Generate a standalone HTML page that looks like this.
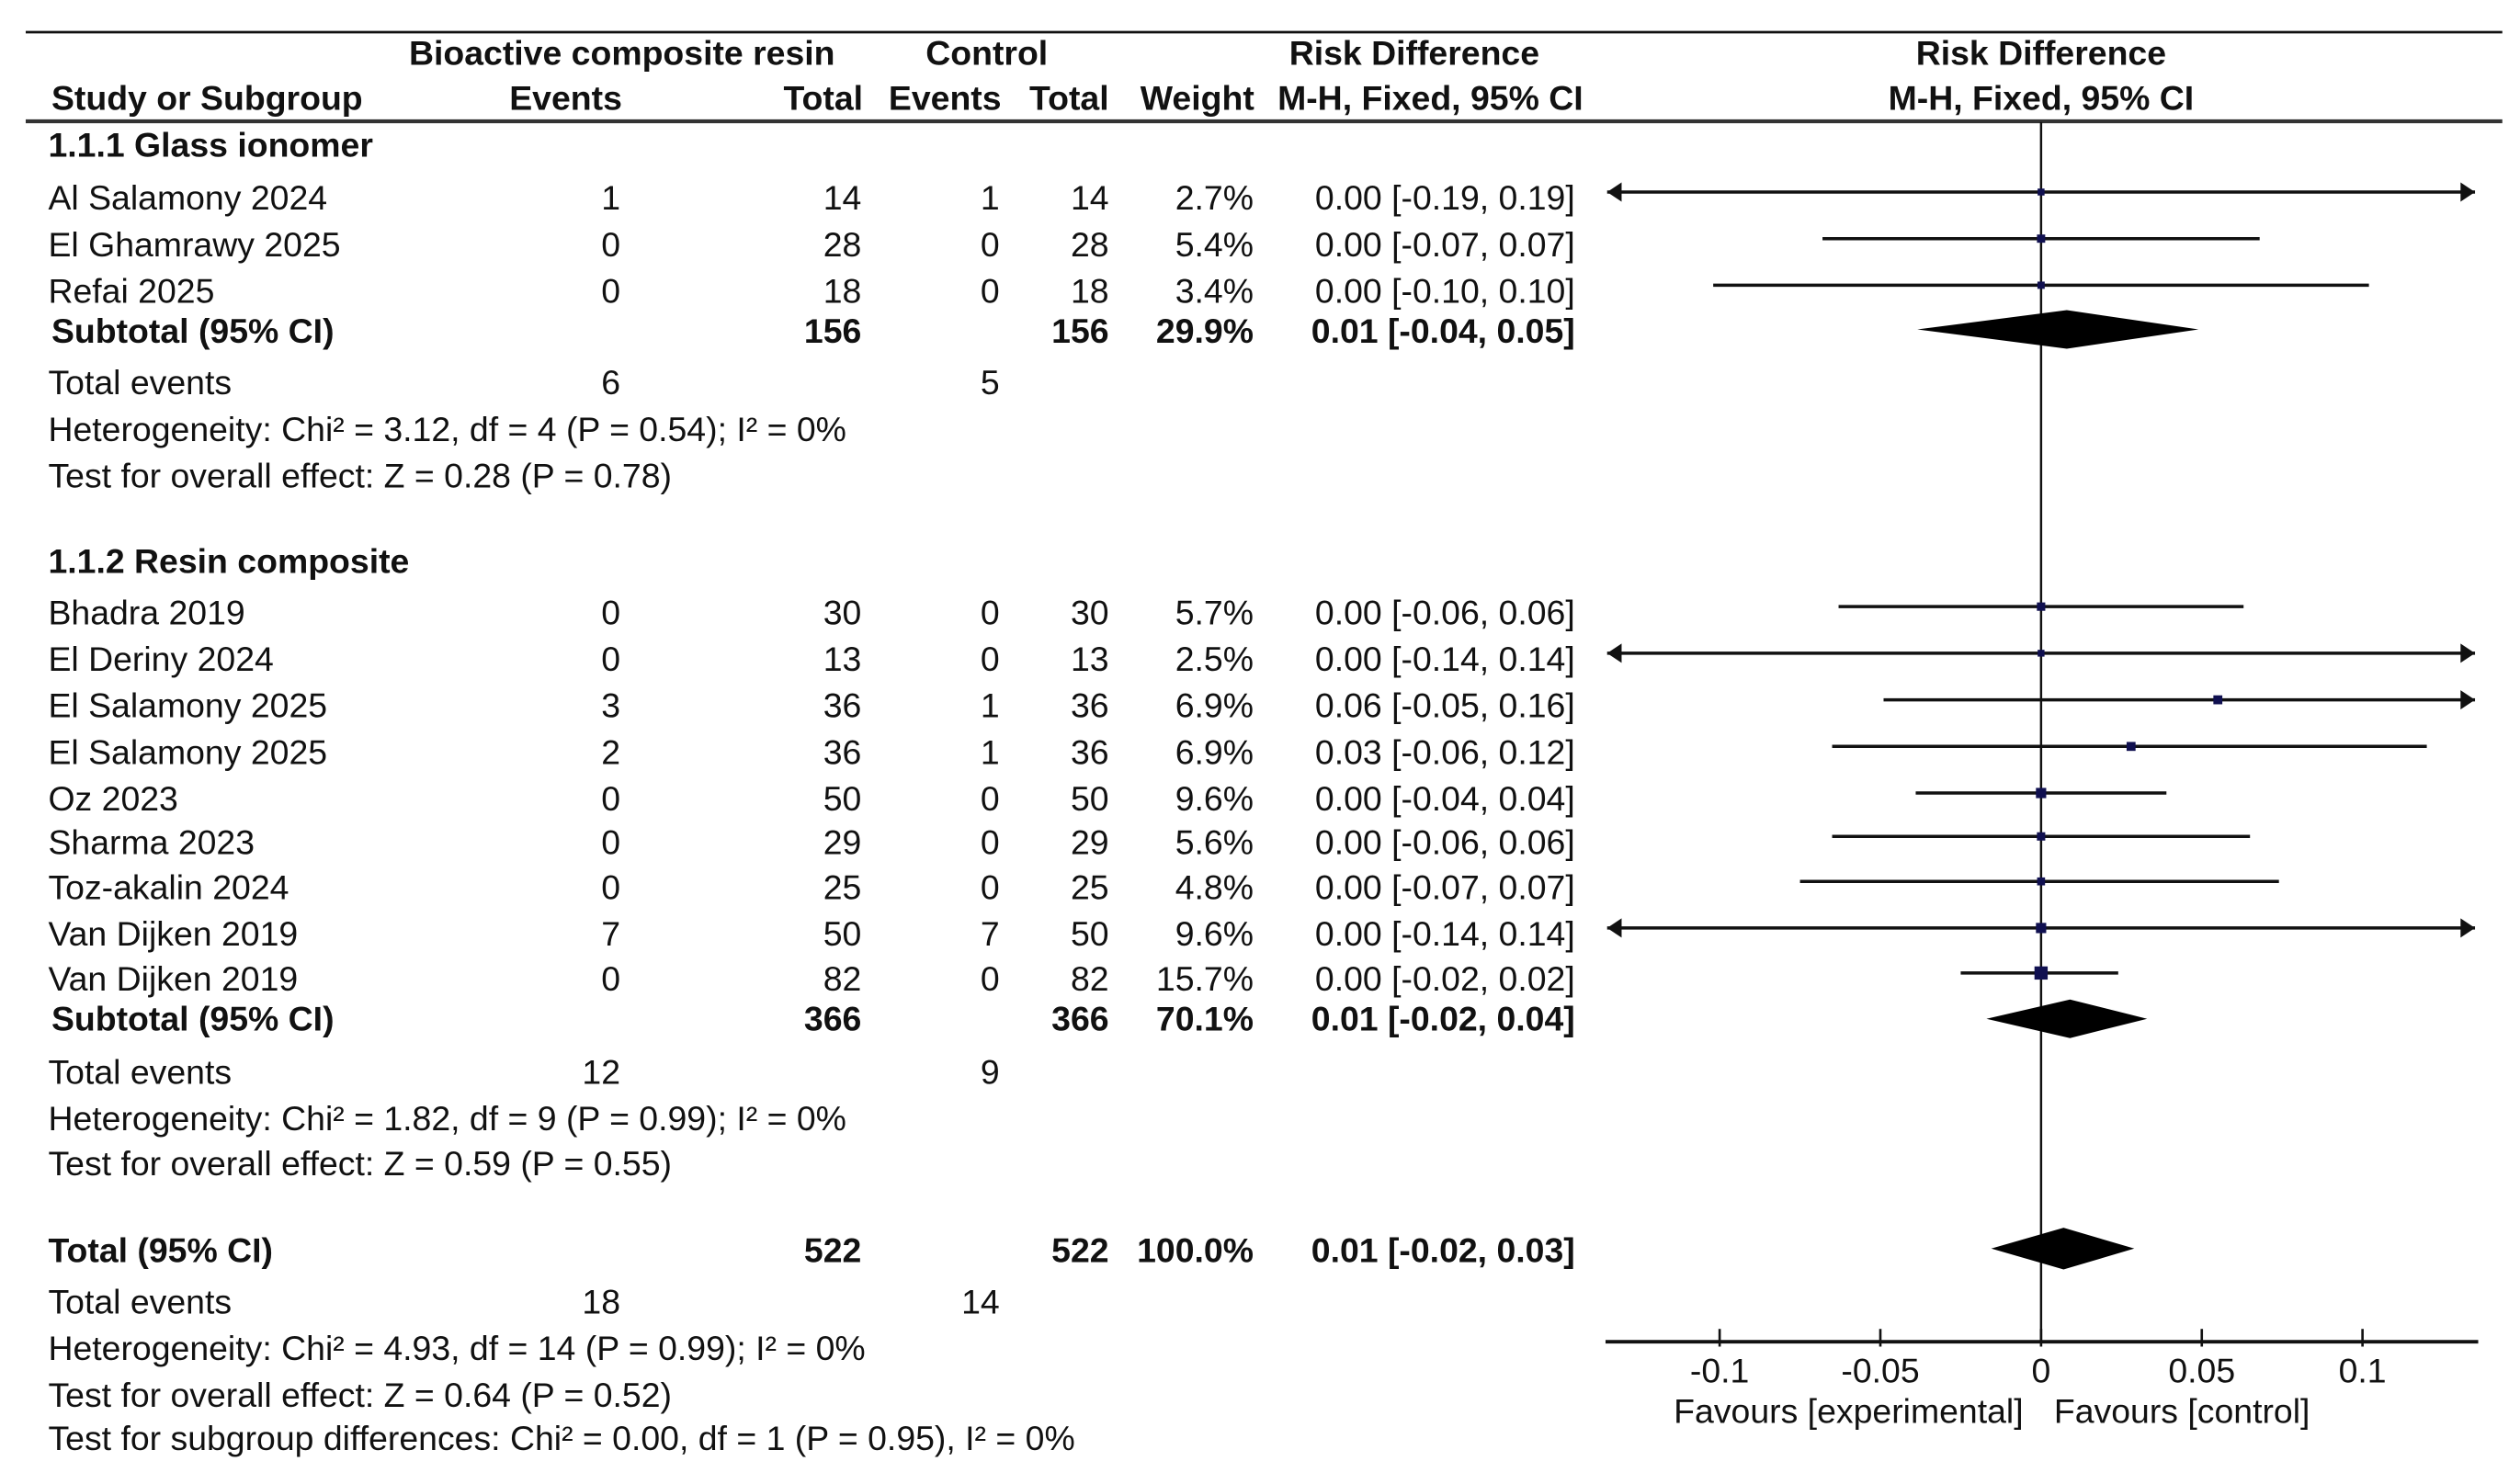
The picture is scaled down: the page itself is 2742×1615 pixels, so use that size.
<!DOCTYPE html>
<html><head><meta charset="utf-8">
<style>
html,body{margin:0;padding:0;background:#fff;}
svg{display:block;}
text{font-family:"Liberation Sans",Arial,sans-serif;font-size:21.4px;fill:#111;dominant-baseline:central;}
.b{font-weight:bold;}
</style></head>
<body>
<svg id="chart" width="2742" height="1615" viewBox="0 0 1568 923.5" preserveAspectRatio="none" xmlns="http://www.w3.org/2000/svg">
<g id="tbl"></g>
<g id="plot"></g>
</svg>
<script>
// ---- chart data ----
const studyNames = ["Al Salamony 2024","El Ghamrawy 2025","Refai 2025","Bhadra 2019","El Deriny 2024","El Salamony 2025","El Salamony 2025","Oz 2023","Sharma 2023","Toz-akalin 2024","Van Dijken 2019","Van Dijken 2019"];
const studyY = [123,152,181,381,410,439,468,497,524,552,581,609];
const expEvents = ["1","0","0","0","0","3","2","0","0","0","7","0"];
const expTotal = ["14","28","18","30","13","36","36","50","29","25","50","82"];
const ctlEvents = ["1","0","0","0","0","1","1","0","0","0","7","0"];
const ctlTotal = ["14","28","18","30","13","36","36","50","29","25","50","82"];
const weights = ["2.7%","5.4%","3.4%","5.7%","2.5%","6.9%","6.9%","9.6%","5.6%","4.8%","9.6%","15.7%"];
const ciText = ["0.00 [-0.19, 0.19]","0.00 [-0.07, 0.07]","0.00 [-0.10, 0.10]","0.00 [-0.06, 0.06]","0.00 [-0.14, 0.14]","0.06 [-0.05, 0.16]","0.03 [-0.06, 0.12]","0.00 [-0.04, 0.04]","0.00 [-0.06, 0.06]","0.00 [-0.07, 0.07]","0.00 [-0.14, 0.14]","0.00 [-0.02, 0.02]"];
const effects = [0,0,0,0,0,0.055,0.028,0,0,0,0,0];
const ciLow = [-0.19,-0.068,-0.102,-0.063,-0.14,-0.049,-0.065,-0.039,-0.065,-0.075,-0.14,-0.025];
const ciHigh = [0.19,0.068,0.102,0.063,0.14,0.16,0.12,0.039,0.065,0.074,0.14,0.024];
const weightVals = [2.7,5.4,3.4,5.7,2.5,6.9,6.9,9.6,5.6,4.8,9.6,15.7];
const diamondNames = ["subtotal-glass-ionomer","subtotal-resin-composite","overall-total"];
const diamondY = [205,634,777];
const diamondMid = [0.008,0.009,0.007];
const diamondLow = [-0.0385,-0.017,-0.0155];
const diamondHigh = [0.049,0.033,0.029];
const tickVals = [-0.1,-0.05,0,0.05,0.1];
const tickLabels = ["-0.1","-0.05","0","0.05","0.1"];

const NS="http://www.w3.org/2000/svg";
const tbl=document.getElementById('tbl'), plot=document.getElementById('plot');
const X0=1270, SCALE=2000, XMIN=-0.135, XMAX=0.135;
function xs(v){return X0+v*SCALE;}
function mk(tag,parent,attrs){const e=document.createElementNS(NS,tag);for(const k in attrs)e.setAttribute(k,attrs[k]);parent.appendChild(e);return e;}
function txt(parent,x,y,s,anchor,bold,name){
  const t=mk('text',parent,{x:x,y:y,'text-anchor':anchor||'start'});
  if(bold)t.setAttribute('class','b');
  t.textContent=s;
  
  
  return t;
}
let l=mk('line',tbl,{x1:16,y1:20,x2:1557,y2:20,stroke:'#111','stroke-width':1.6});


l=mk('line',tbl,{x1:16,y1:75.5,x2:1557,y2:75.5,stroke:'#333','stroke-width':2.4});


txt(tbl,387,33,"Bioactive composite resin","middle",true,'header-experimental');
txt(tbl,614,33,"Control","middle",true,'header-control');
txt(tbl,880,33,"Risk Difference","middle",true,'header-risk-difference');
txt(tbl,1270,33,"Risk Difference","middle",true,'plot-header-risk-difference');
txt(tbl,32,61,"Study or Subgroup","start",true,'header-study');
txt(tbl,352,61,"Events","middle",true,'header-exp-events');
txt(tbl,537,61,"Total","end",true,'header-exp-total');
txt(tbl,588,61,"Events","middle",true,'header-ctl-events');
txt(tbl,690,61,"Total","end",true,'header-ctl-total');
txt(tbl,745,61,"Weight","middle",true,'header-weight');
txt(tbl,890,61,"M-H, Fixed, 95% CI","middle",true,'header-ci');
txt(tbl,1270,61,"M-H, Fixed, 95% CI","middle",true,'plot-header-ci');
for(let i=0;i<studyNames.length;i++){
  const y=studyY[i];
  txt(tbl,30,y,studyNames[i],'start',false,'study-name');
  txt(tbl,386,y,expEvents[i],'end',false,'exp-events');
  txt(tbl,536,y,expTotal[i],'end',false,'exp-total');
  txt(tbl,622,y,ctlEvents[i],'end',false,'ctl-events');
  txt(tbl,690,y,ctlTotal[i],'end',false,'ctl-total');
  txt(tbl,780,y,weights[i],'end',false,'weight');
  txt(tbl,980,y,ciText[i],'end',false,'ci-text');
}
const rows=[
 [30,90,"1.1.1 Glass ionomer",true,'subgroup-title-glass-ionomer'],
 [32,206,"Subtotal (95% CI)",true,'subtotal-label'],
 [30,238,"Total events",false,'total-events-label'],
 [30,267,"Heterogeneity: Chi² = 3.12, df = 4 (P = 0.54); I² = 0%",false,'heterogeneity-text'],
 [30,296,"Test for overall effect: Z = 0.28 (P = 0.78)",false,'overall-effect-text'],
 [30,349,"1.1.2 Resin composite",true,'subgroup-title-resin-composite'],
 [32,634,"Subtotal (95% CI)",true,'subtotal-label'],
 [30,667,"Total events",false,'total-events-label'],
 [30,696,"Heterogeneity: Chi² = 1.82, df = 9 (P = 0.99); I² = 0%",false,'heterogeneity-text'],
 [30,724,"Test for overall effect: Z = 0.59 (P = 0.55)",false,'overall-effect-text'],
 [30,778,"Total (95% CI)",true,'total-label'],
 [30,810,"Total events",false,'total-events-label'],
 [30,839,"Heterogeneity: Chi² = 4.93, df = 14 (P = 0.99); I² = 0%",false,'heterogeneity-text'],
 [30,868,"Test for overall effect: Z = 0.64 (P = 0.52)",false,'overall-effect-text'],
 [30,895,"Test for subgroup differences: Chi² = 0.00, df = 1 (P = 0.95), I² = 0%",false,'subgroup-difference-text']
];
rows.forEach(r=>txt(tbl,r[0],r[1],r[2],'start',r[3],r[4]));
const nums=[
 [536,206,"156",true],[690,206,"156",true],[780,206,"29.9%",true],[980,206,"0.01 [-0.04, 0.05]",true],
 [386,238,"6",false],[622,238,"5",false],
 [536,634,"366",true],[690,634,"366",true],[780,634,"70.1%",true],[980,634,"0.01 [-0.02, 0.04]",true],
 [386,667,"12",false],[622,667,"9",false],
 [536,778,"522",true],[690,778,"522",true],[780,778,"100.0%",true],[980,778,"0.01 [-0.02, 0.03]",true],
 [386,810,"18",false],[622,810,"14",false]
];
nums.forEach(r=>txt(tbl,r[0],r[1],r[2],'end',r[3],'summary-value'));

l=mk('line',plot,{x1:xs(0),y1:76,x2:xs(0),y2:835,stroke:'#111','stroke-width':1.4});


l=mk('line',plot,{x1:xs(XMIN)-1,y1:835,x2:xs(XMAX)+2,y2:835,stroke:'#111','stroke-width':2.2});


for(let i=0;i<tickVals.length;i++){
  const t=mk('line',plot,{x1:xs(tickVals[i]),y1:827,x2:xs(tickVals[i]),y2:838,stroke:'#111','stroke-width':1.5});
  
  
  txt(plot,xs(tickVals[i]),853,tickLabels[i],'middle',false,'x-tick-label');
}
txt(plot,1259,878,"Favours [experimental]",'end',false,'favours-experimental-label');
txt(plot,1278,878,"Favours [control]",'start',false,'favours-control-label');

for(let i=0;i<effects.length;i++){
  const y=studyY[i]-3.5;
  const lo=Math.max(ciLow[i],XMIN), hi=Math.min(ciHigh[i],XMAX);
  const ln=mk('line',plot,{x1:xs(lo),y1:y,x2:xs(hi),y2:y,stroke:'#111','stroke-width':2});
  
  
  if(ciLow[i]<XMIN){
    const a=mk('polygon',plot,{points:`${xs(XMIN)},${y} ${xs(XMIN)+9},${y-6} ${xs(XMIN)+9},${y+6}`,fill:'#111'});
    
    
  }
  if(ciHigh[i]>XMAX){
    const a=mk('polygon',plot,{points:`${xs(XMAX)},${y} ${xs(XMAX)-9},${y-6} ${xs(XMAX)-9},${y+6}`,fill:'#111'});
    
    
  }
  const s=3.5+weightVals[i]*0.3;
  const sq=mk('rect',plot,{x:xs(effects[i])-s/2,y:y-s/2,width:s,height:s,fill:'#101050'});
  
  
}
for(let i=0;i<diamondY.length;i++){
  const y=diamondY[i], h=i==2?13:12;
  const d=mk('polygon',plot,{points:`${xs(diamondLow[i])},${y} ${xs(diamondMid[i])},${y-h} ${xs(diamondHigh[i])},${y} ${xs(diamondMid[i])},${y+h}`,fill:'#000'});
  
  
}
</script>
</body></html>
